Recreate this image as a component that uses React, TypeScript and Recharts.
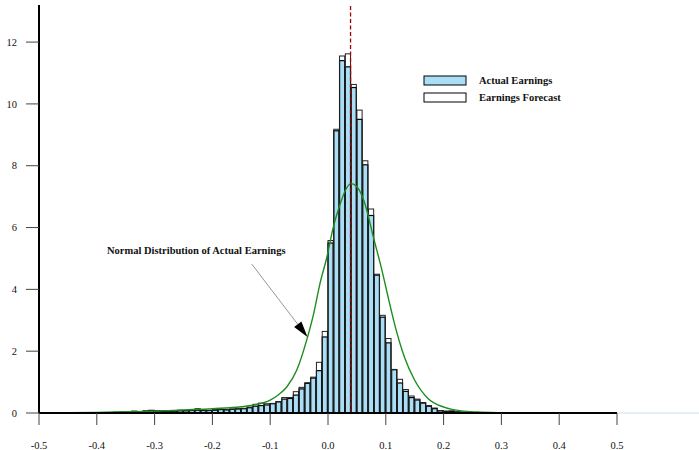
import React from 'react';
import {
  ComposedChart, Bar, Line, XAxis, YAxis, ReferenceLine, ReferenceDot, Legend,
} from 'recharts';

// Histogram bins (left edge of each 0.01-wide bin)
const binWidth = 0.01;
const binLefts = [
  -0.40, -0.39, -0.38, -0.37, -0.36, -0.35, -0.34, -0.33, -0.32, -0.31,
  -0.30, -0.29, -0.28, -0.27, -0.26, -0.25, -0.24, -0.23, -0.22, -0.21,
  -0.20, -0.19, -0.18, -0.17, -0.16, -0.15, -0.14, -0.13, -0.12, -0.11,
  -0.10, -0.09, -0.08, -0.07, -0.06, -0.05, -0.04, -0.03, -0.02, -0.01,
  0.00, 0.01, 0.02, 0.03, 0.04, 0.05, 0.06, 0.07, 0.08, 0.09,
  0.10, 0.11, 0.12, 0.13, 0.14, 0.15, 0.16, 0.17, 0.18, 0.19,
  0.20, 0.21, 0.22, 0.23, 0.24,
];
const actualEarnings = [
  0.01, 0.01, 0.01, 0.02, 0.02, 0.03, 0.05, 0.04, 0.06, 0.07,
  0.06, 0.05, 0.06, 0.06, 0.07, 0.07, 0.08, 0.09, 0.08, 0.08,
  0.09, 0.11, 0.10, 0.12, 0.13, 0.14, 0.17, 0.22, 0.24, 0.26,
  0.30, 0.36, 0.45, 0.47, 0.58, 0.78, 0.96, 1.13, 1.37, 2.46,
  5.50, 9.13, 11.40, 11.20, 10.53, 9.50, 8.03, 6.39, 4.46, 3.10,
  2.27, 1.40, 0.97, 0.70, 0.50, 0.42, 0.32, 0.22, 0.14, 0.07,
  0.05, 0.05, 0.03, 0.02, 0.01,
];
const earningsForecast = [
  0.01, 0.01, 0.01, 0.02, 0.03, 0.04, 0.06, 0.05, 0.07, 0.09,
  0.07, 0.07, 0.06, 0.07, 0.09, 0.08, 0.09, 0.14, 0.10, 0.09,
  0.11, 0.12, 0.11, 0.13, 0.14, 0.15, 0.19, 0.28, 0.32, 0.30,
  0.31, 0.37, 0.50, 0.50, 0.69, 0.83, 0.98, 1.16, 1.64, 2.64,
  5.58, 9.18, 11.55, 11.62, 10.63, 9.80, 8.16, 6.60, 4.49, 3.16,
  2.41, 1.41, 1.09, 0.76, 0.55, 0.45, 0.34, 0.24, 0.16, 0.08,
  0.06, 0.07, 0.04, 0.03, 0.02,
];

// Normal distribution curve
const curveX = [
  -0.5, -0.45, -0.4, -0.35, -0.3, -0.25, -0.2, -0.15, -0.129, -0.1,
  -0.085, -0.071, -0.054, -0.037, -0.025, -0.014, -0.002, 0.009, 0.021, 0.03,
  0.04, 0.05, 0.063, 0.08, 0.092, 0.104, 0.115, 0.132, 0.15, 0.173,
  0.202, 0.23, 0.26, 0.3, 0.35, 0.5,
];
const curveY = [
  0.0, 0.01, 0.02, 0.04, 0.06, 0.1, 0.14, 0.2, 0.26, 0.42,
  0.6, 0.85, 1.39, 2.35, 3.2, 4.18, 5.04, 6.0, 6.76, 7.2,
  7.42, 7.32, 6.82, 5.58, 4.72, 3.75, 2.89, 1.82, 1.06, 0.47,
  0.18, 0.07, 0.03, 0.01, 0.0, 0.0,
];

const xTicks = [-0.5, -0.4, -0.3, -0.2, -0.1, 0, 0.1, 0.2, 0.3, 0.4, 0.5];
const yTicks = [0, 2, 4, 6, 8, 10, 12];
const meanLine = 0.039;
const annotationText = 'Normal Distribution of Actual Earnings';
const annotationTextPos = { x: -0.3824, y: 5.13 };
const arrowFrom = { x: -0.132, y: 4.82 };
const arrowTo = { x: -0.0355, y: 2.46 };

const histData = binLefts.map((l, i) => ({
  x: l + binWidth / 2,
  actual: actualEarnings[i],
  forecast: earningsForecast[i],
}));
const curveData = curveX.map((x, i) => ({ x, y: curveY[i] }));

const FONT = '"Liberation Serif", "Times New Roman", serif';
const BLUE = '#a9def6';

// Draws the actual-earnings bar and the forecast outline (scaled from the same bar geometry)
const HistShape = (props: any) => {
  const { x, y, width, height, payload } = props;
  if (![x, y, width, height].every((v) => typeof v === 'number' && !isNaN(v))) return null;
  const base = y + height;
  const fh = payload && payload.actual ? (height * payload.forecast) / payload.actual : height;
  return (
    <g>
      <rect x={x} y={y} width={width} height={height} fill={BLUE} stroke="#000" strokeWidth={1.2} />
      <rect x={x} y={base - fh} width={width} height={fh} fill="none" stroke="#222" strokeWidth={1} />
    </g>
  );
};

const ArrowShape = (props: any) => {
  const { x1, y1, x2, y2 } = props;
  if ([x1, y1, x2, y2].some((v) => typeof v !== 'number' || isNaN(v))) return null;
  const dx = x2 - x1;
  const dy = y2 - y1;
  const len = Math.sqrt(dx * dx + dy * dy);
  const ux = dx / len;
  const uy = dy / len;
  const headLen = 16;
  const headHalf = 4.6;
  const bx = x2 - ux * headLen;
  const by = y2 - uy * headLen;
  const px = -uy * headHalf;
  const py = ux * headHalf;
  return (
    <g>
      <line x1={x1} y1={y1} x2={bx} y2={by} stroke="#8a8a8a" strokeWidth={0.9} />
      <polygon
        points={`${x2},${y2} ${bx + px},${by + py} ${bx - px},${by - py}`}
        fill="#000"
      />
    </g>
  );
};

const AnnotationText = (props: any) => {
  const { cx, cy } = props;
  return (
    <text x={cx} y={cy} fontFamily={FONT} fontSize={10.5} fontWeight="bold" fill="#111">
      {annotationText}
    </text>
  );
};

const LegendContent = () => {
  const items = [
    { label: 'Actual Earnings', fill: BLUE },
    { label: 'Earnings Forecast', fill: '#ffffff' },
  ];
  return (
    <div style={{ fontFamily: FONT }}>
      {items.map((it) => (
        <div key={it.label} style={{ display: 'flex', alignItems: 'center', height: 16.5 }}>
          <svg width={44} height={16} style={{ display: 'block' }}>
            <rect x={1} y={3} width={42} height={9} fill={it.fill} stroke="#000" strokeWidth={1} />
          </svg>
          <span
            style={{
              marginLeft: 12,
              fontSize: 10.5,
              fontWeight: 'bold',
              color: '#111',
              lineHeight: '16px',
              whiteSpace: 'nowrap',
            }}
          >
            {it.label}
          </span>
        </div>
      ))}
    </div>
  );
};

export default function App() {
  return (
    <div style={{ position: 'absolute', left: 0, top: 0, width: 699, height: 450, background: '#fff' }}>
      <ComposedChart
        width={699}
        height={450}
        data={histData}
        margin={{ top: 5, right: 82, bottom: 0, left: 0 }}
        barGap={0}
        barCategoryGap={0}
      >
        <XAxis
          xAxisId="a"
          dataKey="x"
          type="number"
          domain={[-0.5, 0.5]}
          ticks={xTicks}
          allowDataOverflow
          tickFormatter={(v: number) => v.toFixed(1)}
          height={37}
          tickSize={12}
          tickMargin={17}
          axisLine={{ stroke: '#000', strokeWidth: 2 }}
          tickLine={{ stroke: '#444', strokeWidth: 1 }}
          tick={{ fill: '#111', fontSize: 10.5, fontFamily: FONT }}
          interval={0}
        />
        <XAxis
          xAxisId="h"
          dataKey="x"
          type="number"
          domain={[-0.5, 0.5]}
          allowDataOverflow
          hide
        />
        <YAxis
          domain={[0, 13.2]}
          ticks={yTicks}
          width={39}
          tickSize={13}
          tickMargin={9}
          interval={0}
          axisLine={{ stroke: '#000', strokeWidth: 2 }}
          tickLine={{ stroke: '#444', strokeWidth: 1 }}
          tick={{ fill: '#111', fontSize: 10.5, fontFamily: FONT }}
        />
        <Legend
          layout="vertical"
          verticalAlign="middle"
          align="center"
          content={<LegendContent />}
          wrapperStyle={{ position: 'absolute', left: 423, top: 73, width: 200, height: 34 }}
        />
        <ReferenceLine
          xAxisId="a"
          segment={[{ x: 0.5, y: 0 }, { x: 0.642, y: 0 }]}
          ifOverflow="visible"
          stroke="#dfe9f0"
          strokeWidth={1.5}
        />
        <Bar
          xAxisId="h"
          dataKey="actual"
          name="Actual Earnings"
          fill={BLUE}
          stroke="#000"
          barSize={5.78}
          shape={<HistShape />}
          isAnimationActive={false}
        />
        <Line
          xAxisId="a"
          data={curveData}
          dataKey="y"
          type="monotone"
          stroke="#1f8c1f"
          strokeWidth={1.4}
          dot={false}
          activeDot={false}
          isAnimationActive={false}
          legendType="none"
        />
        <ReferenceLine
          xAxisId="a"
          x={meanLine}
          stroke="#a30000"
          strokeWidth={1.3}
          strokeDasharray="4 2.5"
        />
        <ReferenceLine
          xAxisId="a"
          segment={[arrowFrom, arrowTo]}
          ifOverflow="visible"
          shape={<ArrowShape />}
        />
        <ReferenceDot
          xAxisId="a"
          x={annotationTextPos.x}
          y={annotationTextPos.y}
          r={0}
          ifOverflow="visible"
          shape={<AnnotationText />}
        />
      </ComposedChart>
    </div>
  );
}
